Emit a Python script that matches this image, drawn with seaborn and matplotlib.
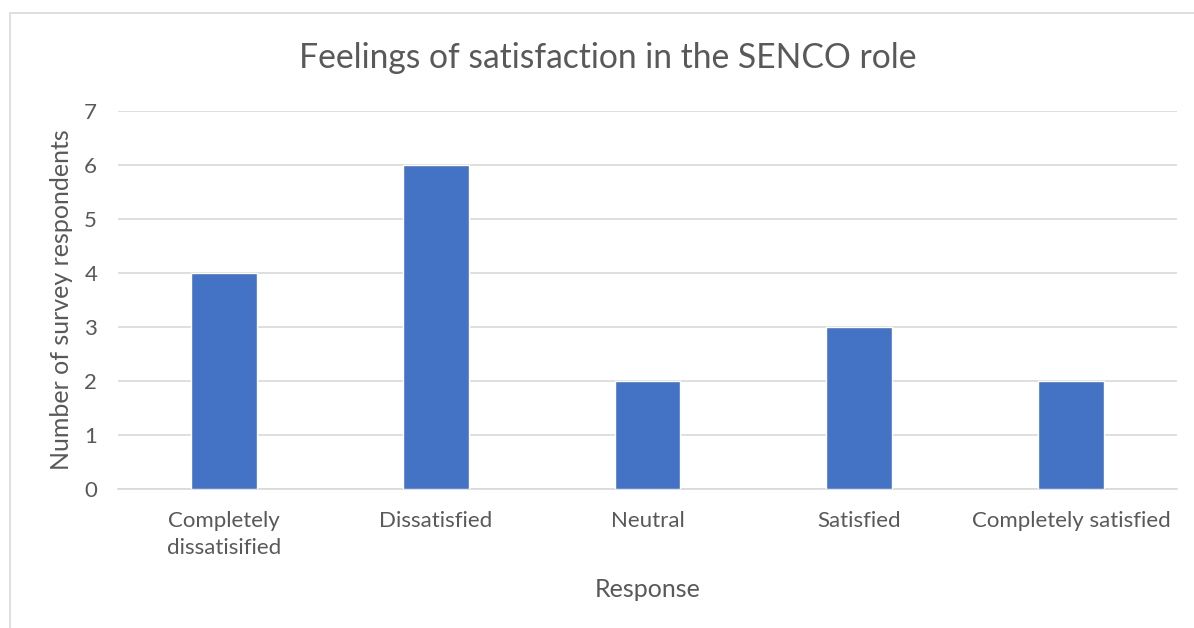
import matplotlib
matplotlib.use("Agg")
import matplotlib.pyplot as plt
from matplotlib.patches import Rectangle
import seaborn as sns
import pandas as pd

responses = ["Completely\ndissatisified", "Dissatisfied", "Neutral", "Satisfied", "Completely satisfied"]
counts = [4, 6, 2, 3, 2]
y_ticks = [0, 1, 2, 3, 4, 5, 6, 7]

sns.set_theme(style="white")
plt.rcParams["font.family"] = ["Lato", "DejaVu Sans"]

text_color = "#595959"
grid_color = "#D9D9D9"
bar_color = "#4472C4"

df = pd.DataFrame({"Response": responses, "Count": counts})

fig = plt.figure(figsize=(11.94, 6.28), dpi=100)
ax = fig.add_axes([118 / 1194, 1 - 489 / 628, 1059 / 1194, 378 / 628])

# chart area frame
fig.patches.append(Rectangle((10 / 1194, -0.01), 1.2, 1 - 13 / 628 + 0.01,
                             transform=fig.transFigure, fill=False,
                             edgecolor=grid_color, linewidth=1.2))

sns.barplot(data=df, x="Response", y="Count", color=bar_color, width=0.31,
            saturation=1, ax=ax, zorder=3)

ax.set_ylim(0, 7)
ax.set_yticks(y_ticks)
ax.set_xlim(-0.5, len(responses) - 0.5)
ax.yaxis.grid(True, color=grid_color, linewidth=1.2, zorder=0)
ax.set_axisbelow(True)
for side in ["top", "right", "left"]:
    ax.spines[side].set_visible(False)
ax.spines["bottom"].set_color(grid_color)
ax.spines["bottom"].set_linewidth(1.2)
ax.tick_params(axis="both", length=0, colors=text_color, labelsize=16)
ax.tick_params(axis="x", pad=16)
ax.tick_params(axis="y", pad=15)
for lbl in ax.get_xticklabels():
    lbl.set_linespacing(1.45)

ax.set_xlabel("Response", fontsize=18, color=text_color, labelpad=14)
ax.set_ylabel("Number of survey respondents", fontsize=18, color=text_color, labelpad=8)
fig.text(608 / 1194, 1 - 58 / 628, "Feelings of satisfaction in the SENCO role",
         ha="center", va="center", fontsize=24.2, color=text_color)

fig.savefig("out.png", dpi=100, facecolor="white")
